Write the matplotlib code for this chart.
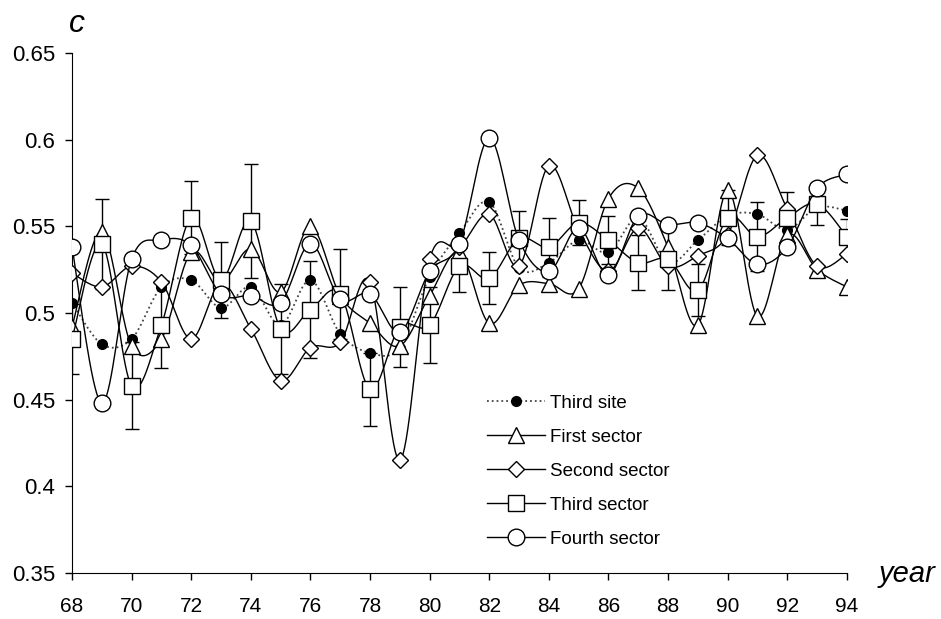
import numpy as np
import matplotlib
matplotlib.use("Agg")
import matplotlib.pyplot as plt

plt.rcParams['font.family'] = ['Liberation Sans', 'DejaVu Sans']

years = list(range(68, 95))

third_site = [0.506, 0.482, 0.485, 0.515, 0.519, 0.503, 0.515, 0.493, 0.519, 0.488,
              0.477, 0.480, 0.521, 0.546, 0.564, 0.526, 0.529, 0.542, 0.535, 0.555,
              0.529, 0.542, 0.556, 0.557, 0.548, 0.561, 0.559]
first_sector = [0.492, 0.547, 0.481, 0.485, 0.535, 0.518, 0.537, 0.512, 0.550, 0.510,
                0.494, 0.481, 0.510, 0.535, 0.494, 0.516, 0.517, 0.514, 0.566, 0.572,
                0.538, 0.493, 0.571, 0.498, 0.545, 0.525, 0.515]
second_sector = [0.523, 0.515, 0.527, 0.518, 0.485, 0.517, 0.491, 0.461, 0.480, 0.483,
                 0.518, 0.415, 0.531, 0.538, 0.557, 0.527, 0.585, 0.548, 0.524, 0.549,
                 0.527, 0.533, 0.545, 0.591, 0.560, 0.527, 0.534]
third_sector = [0.485, 0.540, 0.458, 0.493, 0.555, 0.519, 0.553, 0.491, 0.502, 0.511,
                0.456, 0.492, 0.493, 0.527, 0.520, 0.543, 0.538, 0.552, 0.542, 0.529,
                0.531, 0.513, 0.555, 0.544, 0.555, 0.563, 0.544]
third_sector_err = [0.020, 0.026, 0.025, 0.025, 0.021, 0.022, 0.033, 0.026, 0.028, 0.026,
                    0.021, 0.023, 0.022, 0.015, 0.015, 0.016, 0.017, 0.013, 0.014, 0.016,
                    0.018, 0.015, 0.016, 0.020, 0.015, 0.012, 0.010]
fourth_sector = [0.538, 0.448, 0.531, 0.542, 0.539, 0.511, 0.510, 0.506, 0.540, 0.508,
                 0.511, 0.489, 0.524, 0.540, 0.601, 0.542, 0.524, 0.549, 0.522, 0.556,
                 0.551, 0.552, 0.543, 0.528, 0.538, 0.572, 0.580]


def smooth(x, y, n=20):
    # excel-like smoothed line (catmull-rom through the points)
    x = np.asarray(x, float)
    y = np.asarray(y, float)
    px = np.concatenate([[x[0]], x, [x[-1]]])
    py = np.concatenate([[y[0]], y, [y[-1]]])
    t = np.linspace(0, 1, n)
    xs, ys = [], []
    for i in range(1, len(px) - 2):
        p0, p1, p2, p3 = (np.array([px[j], py[j]]) for j in range(i - 1, i + 3))
        c1 = p1 + (p2 - p0) / 6
        c2 = p2 - (p3 - p1) / 6
        b = (((1 - t) ** 3)[:, None] * p1 + (3 * (1 - t) ** 2 * t)[:, None] * c1
             + (3 * (1 - t) * t ** 2)[:, None] * c2 + (t ** 3)[:, None] * p2)
        xs.extend(b[:, 0])
        ys.extend(b[:, 1])
    return xs, ys


fig = plt.figure(figsize=(9.41, 6.19), dpi=100)
ax = fig.add_axes([0.0765, 0.0743, 0.8235, 0.8401])

series = [
    ("Third site", third_site, dict(marker="o", ms=7, mfc="black", mec="black"), ":", "#444444"),
    ("First sector", first_sector, dict(marker="^", ms=11, mfc="white", mec="black"), "-", "black"),
    ("Second sector", second_sector, dict(marker="D", ms=8, mfc="white", mec="black"), "-", "black"),
    ("Third sector", third_sector, dict(marker="s", ms=11, mfc="white", mec="black"), "-", "black"),
    ("Fourth sector", fourth_sector, dict(marker="o", ms=12, mfc="white", mec="black"), "-", "black"),
]

ax.errorbar(years, third_sector, yerr=third_sector_err, fmt="none", ecolor="black",
            elinewidth=1, capsize=5, capthick=1, zorder=2)

handles = []
for k, (name, vals, mk, ls, col) in enumerate(series):
    sx, sy = smooth(years, vals)
    lw = 1.3 if ls == ":" else 1.0
    ax.plot(sx, sy, linestyle=ls, color=col, lw=lw, zorder=3 + k)
    ax.plot(years, vals, linestyle="none", mew=1, zorder=3 + k, **mk)
    h, = ax.plot([], [], linestyle=ls, color=col, lw=lw, mew=1, **mk)
    handles.append(h)

ax.legend(handles, [s[0] for s in series], loc="upper left", bbox_to_anchor=(0.535, 0.343),
          frameon=False, fontsize=13.5, handlelength=3.1, labelspacing=0.9, handletextpad=0.3,
          borderaxespad=0, borderpad=0)

ax.set_xlim(68, 94)
ax.set_ylim(0.35, 0.65)
ax.set_xticks(range(68, 95, 2))
ax.set_yticks([0.35, 0.4, 0.45, 0.5, 0.55, 0.6, 0.65])
ax.set_yticklabels(["0.35", "0.4", "0.45", "0.5", "0.55", "0.6", "0.65"])
ax.spines["top"].set_visible(False)
ax.spines["right"].set_visible(False)
ax.tick_params(direction="out", length=5, width=1, labelsize=16, pad=7)
ax.tick_params(axis="x", labelsize=15, pad=12)

fig.text(0.073, 0.962, "c", fontsize=23, style="italic", ha="left", va="center")
fig.text(0.934, 0.072, "year", fontsize=21, style="italic", ha="left", va="center")

fig.savefig("out.png", dpi=100)
